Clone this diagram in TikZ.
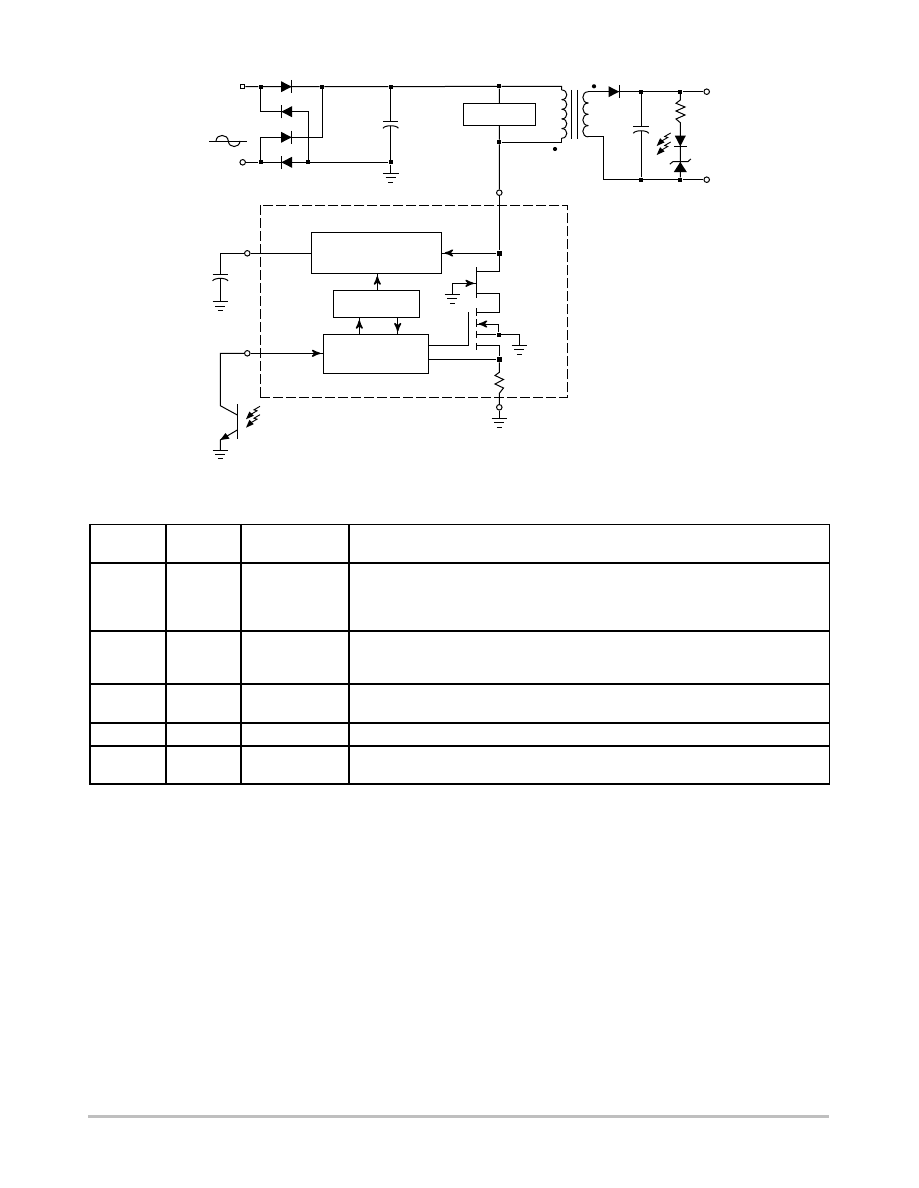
\documentclass[tikz,border=0pt]{standalone}
\usepackage{tikz}
\usetikzlibrary{arrows,decorations.markings}

\begin{document}
\begin{tikzpicture}[x=1pt,y=-1pt,>=stealth',line width=1pt]

  \tikzstyle{block}=[rectangle,draw,inner sep=0pt]
  \tikzstyle{joint}=[rectangle,fill,inner sep=0pt,minimum size=3.8pt]
  \tikzstyle{bigjoint}=[rectangle,fill,inner sep=0pt,minimum size=5pt]
  \tikzstyle{polarity}=[circle,fill,inner sep=0pt,minimum size=4.2pt]
  \tikzstyle{pin}=[circle,draw,fill=white,inner sep=0pt,minimum size=5.5pt]
  \tikzstyle{squarepin}=[rectangle,draw,fill=white,inner sep=0pt,minimum size=4.5pt]
  \tikzstyle{wire}=[line join=miter]
  \tikzstyle{tipped}=[decoration={markings,mark=at position -2.5pt with {\arrow[scale=1.5]{stealth'}}},
    postaction={decorate}]
  \tikzstyle{ruling}=[line width=2pt]

  \tikzset{
    diode/.pic={\fill (-5.3,-5.5) -- (5.3,0) -- (-5.3,5.5) -- cycle;
      \draw (5.5,-6.7) -- (5.5,6.7);},
    zener/.pic={\fill (-5,-6.5) -- (5,0) -- (-5,6.5) -- cycle;
      \draw (2.8,-10.5) -- (5.3,-7.5) -- (5.3,7.5) -- (8,10.5);},
    ground/.pic={\draw (-7.8,0) -- (7.8,0) (-5,4.3) -- (5,4.3) (-2.5,8.8) -- (2.5,8.8);},
    plate/.pic={\draw (-7.7,0) -- (7.7,0);
      \draw (-7.7,6.6) .. controls (-6,3.2) and (6,3.2) .. (7.7,6.6);},
    light/.pic={\fill (0,0) -- (7.8,-3.6) -- (3.4,-7.8) -- cycle;
      \draw[line width=0.9pt] (5,-5) -- (11,-8.5) -- (8,-9.5) -- (14,-13);
    }
  }

  %% \draw [help lines] (0,0) grid (918,1188);
  \useasboundingbox (0,0) rectangle (918,1188);

  % line side
  \node (acp) at (242.7,86.7)  [squarepin] {};
  \node (acn) at (242.7,162.3) [pin] {};
  \node (j1)  at (260.7,86.7)  [joint] {};
  \node (j2)  at (322,86.7)    [joint] {};
  \node (j3)  at (390.7,86.7)  [joint] {};
  \node (j4)  at (499.3,86.3)  [joint] {};
  \node (j5)  at (260.7,162.3) [joint] {};
  \node (j6)  at (308,162.3)   [joint] {};
  \node (j7)  at (390.7,162.3) [joint] {};
  \coordinate (d1) at (286.3,86.7);
  \coordinate (d2) at (286.7,111.7);
  \coordinate (d3) at (286.3,137.3);
  \coordinate (d4) at (286.7,162.3);
  \pic at (d1) {diode};
  \pic[rotate=180] at (d2) {diode};
  \pic at (d3) {diode};
  \pic[rotate=180] at (d4) {diode};

  \draw[wire] (acp) -- (j1) -- (d1) -- (j2) -- (j3) -- (j4) -- (561.7,86.3) -- (561.7,90);
  \draw[wire] (acn) -- (j5) -- (d4) -- (j6) -- (j7);
  \draw[wire] (j1) -- (d2 -| j1) -- (d2) -- (d2 -| j6) -- (j6);
  \draw[wire] (j5) -- (d3 -| j5) -- (d3) -- (d3 -| j2) -- (j2);
  \draw (216,141) .. controls (216.5,133.6) and (227.8,133.6) .. (228.3,141)
        .. controls (228.8,148.4) and (239.5,148.4) .. (240,141);
  \draw (209.3,141) -- (246.7,141);

  \coordinate (c1t) at (390.7,121.7);
  \coordinate (c1b) at (390.7,125.6);
  \pic at (c1t) {plate};
  \draw (j3) -- (c1t) (c1b) -- (j7);
  \coordinate (g1) at (390.7,173.3);
  \pic at (g1) {ground};
  \draw (j7) -- (g1);

  % snubber and transformer
  \node (snub) at (499.5,114.3) [block,minimum width=72.4pt,minimum height=22pt] {};
  \node (j8)   at (499.3,142)   [joint] {};
  \node (drn)  at (499.3,192.7) [pin] {};
  \coordinate (p1) at (561.7,138.2);
  \draw (j4) -- (snub);
  \draw (snub) -- (j8) -- (drn);
  \draw[wire] (j8) -- (p1 |- j8) -- (p1);
  \foreach \n in {0,...,4}
    \draw (561.7,90+\n*9.64) .. controls (568.5,90+\n*9.64) and (568.5,99.64+\n*9.64) .. (561.7,99.64+\n*9.64);
  \draw (571.7,90) -- (571.7,139.3) (577.3,90) -- (577.3,139.3);
  \foreach \n in {0,...,3}
    \draw (588.3,91.7+\n*11.3) .. controls (581,91.7+\n*11.3) and (581,103+\n*11.3) .. (588.3,103+\n*11.3);
  \node (dotp) at (555,149)   [polarity] {};
  \node (dots) at (594,86.3)  [polarity] {};

  % output side
  \coordinate (s1)  at (588.3,91.7);
  \coordinate (s2)  at (588.3,136.9);
  \coordinate (d5)  at (613.8,91.7);
  \node (j9)  at (641,91.7)    [joint] {};
  \node (j10) at (680.3,91.7)  [joint] {};
  \node (outp) at (706.7,91.7) [pin] {};
  \node (j11) at (641,179.7)   [joint] {};
  \node (j12) at (680.3,179.7) [joint] {};
  \node (outn) at (706.7,179.7) [pin] {};
  \pic at (d5) {diode};
  \draw (s1) -- (d5) -- (j9) -- (j10) -- (outp);
  \draw[wire] (s2) -- (603.3,136.9) -- (603.3,179.7) -- (j11) -- (j12) -- (outn);
  \coordinate (c2t) at (641,126.7);
  \coordinate (c2b) at (641,130.6);
  \pic at (c2t) {plate};
  \draw (j9) -- (c2t) (c2b) -- (j11);
  \coordinate (led) at (680.3,141);
  \coordinate (zen) at (680.3,167);
  \pic[rotate=-90] at (led) {diode};
  \pic[rotate=90] at (zen) {zener};
  \draw[wire] (j10) -- (680.3,100) -- (676,103.3) -- (685,107) -- (676,111) -- (685,115)
        -- (676,119) -- (680.3,122.7) -- (led) -- (zen) -- (j12);
  \pic at (656.7,146) {light};
  \pic at (656.7,155) {light};

  % controller
  \node (frame) at (413.8,301.3) [block,dash pattern=on 10pt off 3pt,
    minimum width=307pt,minimum height=192pt] {};
  \node (blka) at (376.5,252.8) [block,minimum width=130.4pt,minimum height=41pt] {};
  \node (blkb) at (376.3,303.8) [block,minimum width=86pt,minimum height=27pt] {};
  \node (blkc) at (375.8,353.8) [block,minimum width=105pt,minimum height=39pt] {};
  \node (vcc)  at (247.3,253.3) [pin] {};
  \node (fb)   at (247.3,353.3) [pin] {};
  \node (j13)  at (499.3,253)   [bigjoint] {};
  \node (j14)  at (498.8,334.7) [joint,minimum size=4.2pt] {};
  \node (j15)  at (499.3,359.3) [bigjoint] {};
  \node (srcp) at (499.3,407.3) [pin] {};

  \draw[tipped] (j13) -- (blka.east |- j13);
  \draw (vcc) -- (blka.west |- vcc);
  \draw[tipped] (fb) -- (blkc.west |- fb);
  \draw[tipped] (blkb.north -| 377.3,0) -- (blka.south -| 377.3,0);
  \draw[tipped] (blkc.north -| 359.3,0) -- (blkb.south -| 359.3,0);
  \draw[tipped] (blkb.south -| 397.7,0) -- (blkc.north -| 397.7,0);

  \coordinate (c3t) at (220.3,274.3);
  \coordinate (c3b) at (220.3,278);
  \pic at (c3t) {plate};
  \draw[wire] (vcc) -- (c3t |- vcc) -- (c3t);
  \coordinate (g3) at (220.3,301.7);
  \pic at (g3) {ground};
  \draw (c3b) -- (g3);

  % optocoupler output
  \coordinate (qb) at (237.3,415);
  \coordinate (qe) at (237.3,430);
  \coordinate (qt) at (220.3,405.7);
  \coordinate (qg) at (220.3,440);
  \coordinate (g4) at (220.3,450);
  \draw (237.3,404) -- (237.3,438.7);
  \draw[wire] (fb) -- (qt |- fb) -- (qt) -- (qb);
  \draw (qe) -- (qg) -- (g4);
  \fill (qg) -- (225.5,433) -- (229.5,438.6) -- cycle;
  \pic at (g4) {ground};
  \pic at (246,419.3) {light};
  \pic at (246,427.7) {light};

  % switches
  \draw (drn) -- (j13);
  \coordinate (jd) at (476.3,271);
  \coordinate (js) at (476.3,293.3);
  \coordinate (md) at (476.3,312.3);
  \coordinate (mb) at (476.3,324);
  \coordinate (ms) at (476.3,345.3);
  \coordinate (mg) at (468.7,345.3);
  \draw (476.3,267.3) -- (476.3,297.7);
  \draw[wire] (j13) -- (jd -| j13) -- (jd);
  \draw[wire] (js) -- (js -| j13) -- (md -| j13) -- (md);
  \coordinate (g5) at (452.3,294.3);
  \pic at (g5) {ground};
  \draw[wire] (g5) -- (452.3,283.3) [tipped] -- (476.3,283.3);

  \draw (mg) -- (468.7,312);
  \foreach \ya/\yb in {308.3/315.7, 319.3/326.5, 330.7/338, 343/350}
    \draw (476.3,\ya) -- (476.3,\yb);
  \draw[wire,tipped] (j14) -- (mb -| j14) -- (mb);
  \draw (476.3,334.7) -- (j14);
  \coordinate (g6) at (519.3,345.3);
  \draw[wire] (j14) -- (g6 |- j14) -- (g6);
  \pic at (g6) {ground};
  \draw[wire] (ms) -- (ms -| j15) -- (j15);
  \draw[wire] (blkc.east |- mg) -- (mg);
  \draw (blkc.east |- j15) -- (j15);
  \draw[wire] (j15) -- (499.3,372.3) -- (495,375.5) -- (503.5,379.5) -- (495,384) -- (503.5,388)
        -- (499.3,393.3) -- (srcp);
  \coordinate (g7) at (499.3,418.3);
  \draw (srcp) -- (g7);
  \pic at (g7) {ground};

  % pin table
  \draw[line width=1.1pt] (89.5,524.3) -- (829.5,524.3) -- (829.5,783.7);
  \foreach \yy in {562.7,631,684,722.7,745.7,783.7}
    \draw[ruling] (89.2,\yy) -- (830,\yy);
  \foreach \xx in {90,166,241,349}
    \draw[ruling] (\xx,523.8) -- (\xx,784.7);

  % footer rule
  \fill[gray!50] (88,1114.8) rectangle (829.3,1117.8);
\end{tikzpicture}
\end{document}
